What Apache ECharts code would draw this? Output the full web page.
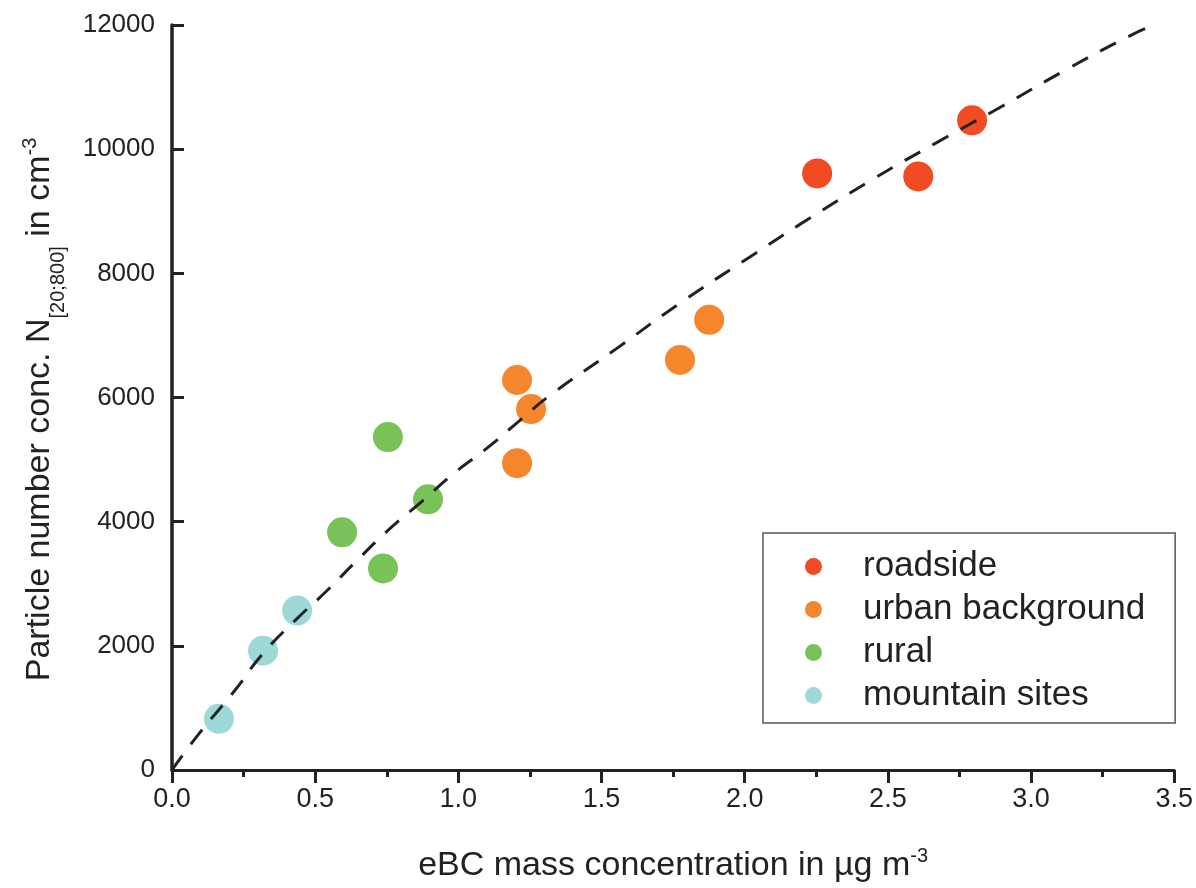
<!DOCTYPE html>
<html>
<head>
<meta charset="utf-8">
<title>eBC vs particle number</title>
<script src="https://cdn.jsdelivr.net/npm/echarts@6/dist/echarts.min.js"></script>
<style>
  html, body { margin: 0; padding: 0; background: #fff; }
  #chart { width: 1196px; height: 888px; }
</style>
</head>
<body>
<div id="chart"></div>
<script>
// values: [eBC, N]
var roadside = [[2.253, 9609], [2.606, 9561], [2.794, 10465]];
var urbanBackground = [[1.205, 6282], [1.254, 5814], [1.205, 4942], [1.774, 6605], [1.876, 7251]];
var rural = [[0.754, 5362], [0.594, 3828], [0.894, 4360], [0.737, 3246]];
var mountainSites = [[0.164, 824], [0.318, 1922], [0.437, 2568]];

// dashed fit curve
var fitX = [0, 0.091, 0.224, 0.314, 0.433, 0.538, 0.653, 0.758, 0.873, 0.985, 1.100, 1.212, 1.317, 1.551, 1.771, 1.998, 2.225, 2.452, 2.672, 2.899, 3.126, 3.350, 3.430];
var fitY = [0, 565, 1308, 1857, 2422, 2875, 3408, 3876, 4328, 4780, 5184, 5620, 6024, 6783, 7510, 8204, 8882, 9528, 10110, 10691, 11289, 11838, 12000];

var seriesNames = ['roadside', 'urban background', 'rural', 'mountain sites'];
var seriesColors = ['#f04b24', '#f5862c', '#78c258', '#9dd9d9'];

var font = '"Liberation Sans", Arial, sans-serif';
var ink = '#222';

var chart = echarts.init(document.getElementById('chart'));

var scatterData = [roadside, urbanBackground, rural, mountainSites];
var series = scatterData.map(function (d, i) {
  return {
    name: seriesNames[i],
    type: 'scatter',
    data: d,
    symbolSize: 30,
    itemStyle: { color: seriesColors[i], opacity: 1 },
    z: 2
  };
});
series.push({
  name: 'fit',
  type: 'line',
  data: fitX.map(function (x, i) { return [x, fitY[i]]; }),
  showSymbol: false,
  symbol: 'none',
  smooth: true,
  lineStyle: { color: ink, width: 3, type: [18, 14] },
  z: 5,
  silent: true
});

chart.setOption({
  animation: false,
  textStyle: { fontFamily: font },
  grid: { left: 172, right: 21, top: 25, bottom: 118 },
  legend: {
    data: seriesNames,
    orient: 'vertical',
    left: 763,
    top: 533,
    padding: [16, 30, 10, 42],
    itemGap: 8,
    itemWidth: 17,
    itemHeight: 17,
    icon: 'circle',
    borderColor: '#555',
    borderWidth: 1.5,
    textStyle: { fontSize: 35, color: ink, fontFamily: font, lineHeight: 35, padding: [0, 0, 0, 36] }
  },
  xAxis: {
    type: 'value',
    min: 0,
    max: 3.5,
    interval: 0.5,
    splitLine: { show: false },
    axisLine: { lineStyle: { color: ink, width: 3 } },
    axisTick: { inside: false, length: 13, lineStyle: { color: ink, width: 3 } },
    minorTick: { show: true, splitNumber: 2, length: 7, lineStyle: { color: ink, width: 3 } },
    axisLabel: {
      fontSize: 27, color: ink, margin: 16, fontFamily: font,
      formatter: function (v) { return v.toFixed(1); }
    },
    name: 'eBC mass concentration in µg m{sup|-3}',
    nameLocation: 'middle',
    nameGap: 76,
    nameTextStyle: {
      fontSize: 34, color: ink, fontFamily: font, verticalAlign: 'top',
      rich: { sup: { fontSize: 20, color: ink, fontFamily: font, verticalAlign: 'top', lineHeight: 40 } }
    }
  },
  yAxis: {
    type: 'value',
    min: 0,
    max: 12000,
    interval: 2000,
    splitLine: { show: false },
    axisLine: { onZero: false, lineStyle: { color: ink, width: 3.5 } },
    axisTick: { inside: true, length: 12, lineStyle: { color: ink, width: 3 } },
    axisLabel: {
      fontSize: 26, color: ink, margin: 17, fontFamily: font,
      formatter: function (v) { return String(v); }
    },
    name: 'Particle number conc. N{sub|[20;800]} in cm{sup|-3}',
    nameLocation: 'middle',
    nameRotate: 90,
    nameGap: 112,
    nameTextStyle: {
      fontSize: 34, color: ink, fontFamily: font, lineHeight: 40, padding: [0, 24, 0, 0],
      rich: {
        sub: { fontSize: 20, color: ink, fontFamily: font, verticalAlign: 'bottom', lineHeight: 40, padding: [0, 0, -8, 0] },
        sup: { fontSize: 20, color: ink, fontFamily: font, verticalAlign: 'top', lineHeight: 40 }
      }
    }
  },
  series: series
});
</script>
</body>
</html>
